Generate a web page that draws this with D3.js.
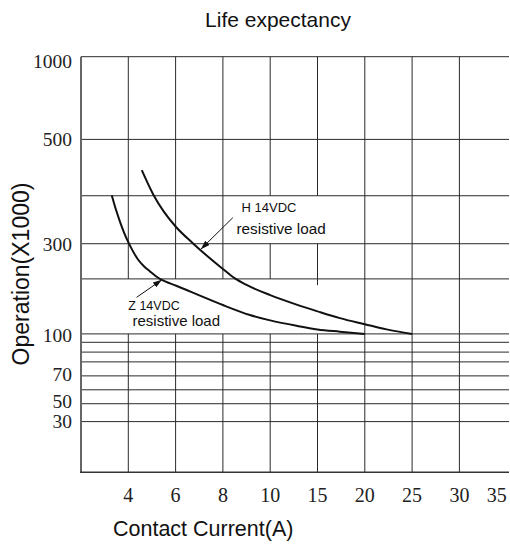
<!DOCTYPE html>
<html>
<head>
<meta charset="utf-8">
<script src="https://cdn.jsdelivr.net/npm/d3@7"></script>
<style>
  body { margin: 0; background: #fff; }
  svg { display: block; }
</style>
</head>
<body>
<div id="chart"></div>
<script>
// axis values
const xTicks = [4, 6, 8, 10, 15, 20, 25, 30, 35]
const xGrid = [4, 6, 8, 10, 15, 20, 25, 30]
const yTicks = [30, 50, 70, 100, 300, 500, 1000]
const yGrid = [30, 50, 60, 70, 80, 87, 94, 100, 222, 300, 392, 500, 1000]
// parts of the vertical grid left blank: [current, from ops, to ops]
const gridGaps = [[4, 222, 100], [6, 222, 100], [8, 222, 100],
    [10, 392, 300], [10, 222, 100], [15, 392, 300], [15, 208, 100]]

// H 14VDC resistive load
const hCurrent = [4.57, 5.06, 5.51, 6.0, 6.75, 8.0, 8.51, 9.0, 10, 12.79, 15, 17.36, 20, 22.3, 25]
const hOps = [441, 394, 361, 333, 300, 244, 223, 208.5, 186, 165, 150, 135, 121.5, 110, 100]
// Z 14VDC resistive load
const zCurrent = [3.30, 3.48, 3.65, 3.82, 4.0, 4.20, 4.41, 4.66, 4.92, 5.17, 5.42, 5.76, 6.0,
    7.03, 8.0, 9.14, 10, 12.79, 15, 17.36, 20]
const zOps = [393, 365, 342, 321.5, 303, 283, 265, 250, 238.5, 228, 219.6, 212, 207.4,
    185, 164, 142, 130, 118, 110, 105, 100]

const width = 510, height = 545
const margin = { left: 81, right: 506.7, top: 56.7, bottom: 472.3 }
const plotH = margin.bottom - margin.top

const svg = d3.select("#chart").append("svg")
    .attr("width", width)
    .attr("height", height)

// x axis is 2 A per cell up to 10, then 5 A per cell
const x = d3.scaleLinear()
    .domain([2, 10, 35])
    .range([margin.left, margin.left + (margin.right - margin.left) * 4 / 9, margin.right])

// y axis is hand drawn, not log: piecewise through the labelled values
const y = d3.scaleLinear()
    .domain([0, 30, 50, 70, 100, 300, 500, 1000])
    .range([1, 0.878, 0.835, 0.768, 0.667, 0.45, 0.199, 0].map(f => margin.top + f * plotH))

const grid = svg.append("g").attr("stroke", "#2a2a2a").attr("stroke-width", 1)

grid.selectAll(".hline")
    .data(yGrid)
    .enter().append("line")
    .attr("class", "hline")
    .attr("x1", margin.left).attr("x2", width - 1)
    .attr("y1", d => y(d)).attr("y2", d => y(d))

// vertical grid, split around the blank areas
const vSegs = []
xGrid.forEach(function (v) {
    let from = 1000
    gridGaps.filter(g => g[0] === v)
        .sort((a, b) => b[1] - a[1])
        .forEach(function (g) {
            vSegs.push({ x: v, y1: from, y2: g[1] })
            from = g[2]
        })
    vSegs.push({ x: v, y1: from, y2: 0 })
})

grid.selectAll(".vline")
    .data(vSegs)
    .enter().append("line")
    .attr("class", "vline")
    .attr("x1", d => x(d.x)).attr("x2", d => x(d.x))
    .attr("y1", d => y(d.y1)).attr("y2", d => y(d.y2))

// axes
svg.append("line")
    .attr("x1", margin.left).attr("x2", margin.left)
    .attr("y1", margin.top).attr("y2", margin.bottom)
    .attr("stroke", "#666").attr("stroke-width", 2)
svg.append("line")
    .attr("x1", margin.left - 1).attr("x2", width - 1)
    .attr("y1", margin.bottom).attr("y2", margin.bottom)
    .attr("stroke", "#333").attr("stroke-width", 1.5)

// curves
const line = d3.line()
    .x(d => x(d[0]))
    .y(d => y(d[1]))
    .curve(d3.curveMonotoneX)

const curves = [d3.zip(hCurrent, hOps), d3.zip(zCurrent, zOps)]
svg.selectAll(".curve")
    .data(curves)
    .enter().append("path")
    .attr("class", "curve")
    .attr("d", line)
    .attr("fill", "none")
    .attr("stroke", "#111")
    .attr("stroke-width", 2)

// arrows
svg.append("defs").append("marker")
    .attr("id", "arrow")
    .attr("markerUnits", "userSpaceOnUse")
    .attr("markerWidth", 10).attr("markerHeight", 6)
    .attr("refX", 9).attr("refY", 3)
    .attr("orient", "auto")
    .append("path")
    .attr("d", "M0,0 L9,3 L0,6 Z")
    .attr("fill", "#111")

const arrows = [[[8.42, 350], [7.07, 288]], [[4.35, 181], [5.42, 220]]]
svg.selectAll(".arrow")
    .data(arrows)
    .enter().append("line")
    .attr("class", "arrow")
    .attr("x1", d => x(d[0][0])).attr("y1", d => y(d[0][1]))
    .attr("x2", d => x(d[1][0])).attr("y2", d => y(d[1][1]))
    .attr("stroke", "#111").attr("stroke-width", 1)
    .attr("marker-end", "url(#arrow)")

// annotation text
const sans = "'Liberation Sans', Arial, sans-serif"
const notes = svg.append("g").attr("font-family", sans).attr("fill", "#111")
notes.append("text").attr("x", 241.5).attr("y", 211.5).attr("font-size", 13).text("H 14VDC")
notes.append("text").attr("x", 236.5).attr("y", 234).attr("font-size", 15.3).text("resistive load")
notes.append("text").attr("x", 128.3).attr("y", 309.5).attr("font-size", 12.5).text("Z 14VDC")
notes.append("text").attr("x", 132.5).attr("y", 326).attr("font-size", 15).text("resistive load")

// tick labels (the scan puts a few of them a little off their lines)
const serif = "'Liberation Serif', 'Times New Roman', serif"
const labelShift = { 1000: 4, 100: 1, 70: -2, 50: -3 }
svg.append("g")
    .selectAll("text")
    .data(yTicks)
    .enter().append("text")
    .attr("x", 72)
    .attr("y", d => y(d) + (labelShift[d] || 0))
    .attr("dy", "0.35em")
    .attr("text-anchor", "end")
    .attr("font-family", serif)
    .attr("font-size", 19.5)
    .attr("fill", "#222")
    .text(d => d)

svg.append("g")
    .selectAll("text")
    .data(xTicks)
    .enter().append("text")
    .attr("x", d => x(d))
    .attr("y", 501.5)
    .attr("text-anchor", (d, i) => i === xTicks.length - 1 ? "end" : "middle")
    .attr("font-family", serif)
    .attr("font-size", 20)
    .attr("fill", "#222")
    .text(d => d)

// titles
svg.append("text")
    .attr("x", 278).attr("y", 27)
    .attr("text-anchor", "middle")
    .attr("font-family", sans).attr("font-size", 21)
    .attr("fill", "#111")
    .text("Life expectancy")

svg.append("text")
    .attr("x", 113).attr("y", 536)
    .attr("font-family", sans).attr("font-size", 21.5)
    .attr("fill", "#111")
    .text("Contact Current(A)")

svg.append("text")
    .attr("transform", "translate(29,274) rotate(-90)")
    .attr("text-anchor", "middle")
    .attr("font-family", sans).attr("font-size", 23)
    .attr("fill", "#111")
    .text("Operation(X1000)")
</script>
</body>
</html>
